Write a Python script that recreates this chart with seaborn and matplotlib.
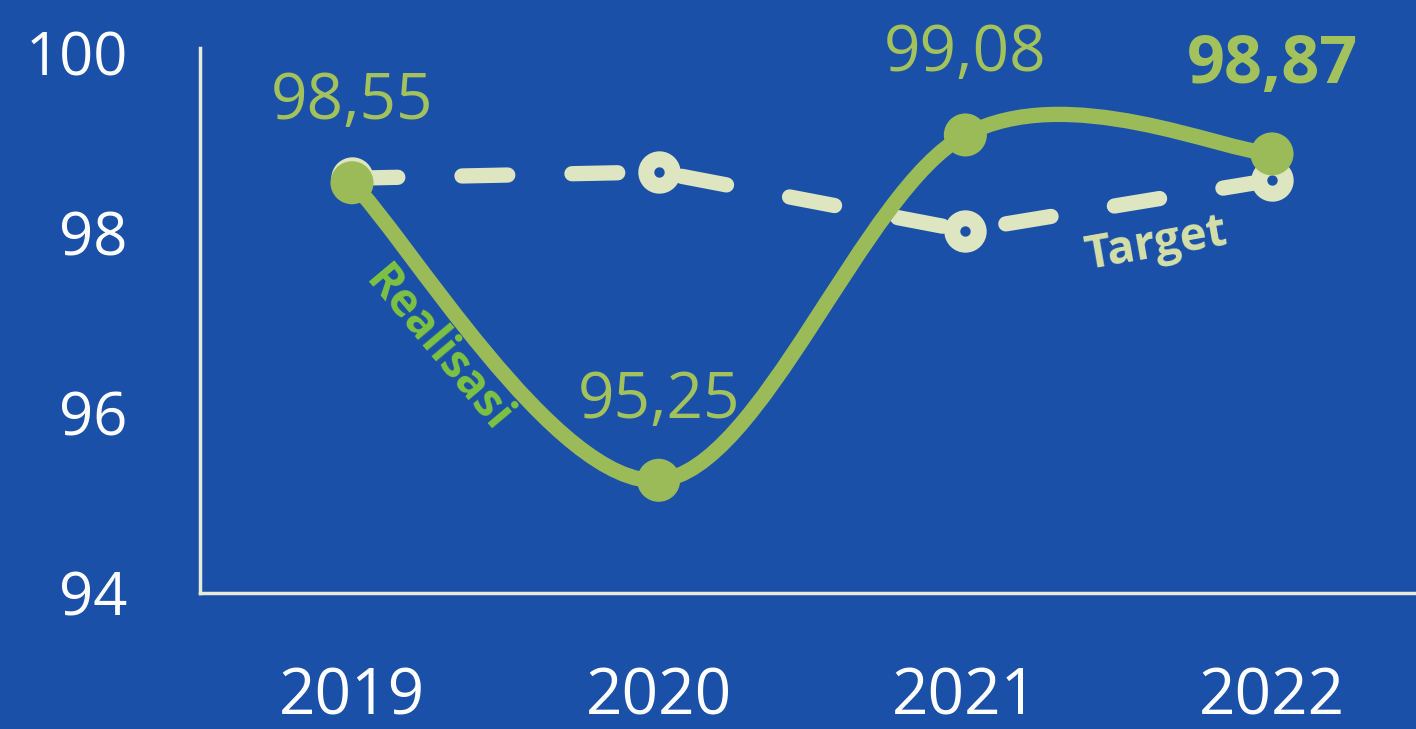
import numpy as np
import pandas as pd
import matplotlib
matplotlib.use("Agg")
import matplotlib.pyplot as plt
import seaborn as sns
from matplotlib.path import Path
from matplotlib.patches import PathPatch

years = ["2019", "2020", "2021", "2022"]
realisasi = [98.55, 95.25, 99.08, 98.87]
target = [98.60, 98.67, 98.02, 98.58]
realisasi_labels = ["98,55", "95,25", "99,08", "98,87"]
y_ticks = [94, 96, 98, 100]

BG = "#1a50a8"
GREEN = "#9bbb59"
LABEL_GREEN = "#a3c25c"
TARGET_C = "#dde6c0"

sns.set_theme(style="white")
plt.rcParams["font.family"] = ["Open Sans", "DejaVu Sans"]

fig = plt.figure(figsize=(14.16, 7.29), dpi=100, facecolor=BG)
ax = fig.add_axes([200 / 1416, (729 - 593) / 729, 1 - 200 / 1416, (593 - 48) / 729])
ax.set_facecolor(BG)

df = pd.DataFrame({"idx": np.arange(len(years)), "year": years,
                   "realisasi": realisasi, "target": target})

# Target dashed line with ring markers
sns.lineplot(data=df, x="idx", y="target", ax=ax, color=TARGET_C, linewidth=11,
             marker="o", markersize=19, markerfacecolor=BG, markeredgecolor=TARGET_C,
             markeredgewidth=11.5, zorder=2)
tl = ax.lines[-1]
tl.set_dashes([3.0, 4.2])
tl.set_dash_capstyle("round")
tl.set_solid_capstyle("round")

# Smoothed realisasi line (Bezier through the data points)
xs = df["idx"].to_numpy(dtype=float)
ys = df["realisasi"].to_numpy(dtype=float)
n = len(xs)
verts = [(xs[0], ys[0])]
codes = [Path.MOVETO]
for i in range(n - 1):
    p0 = (xs[max(i - 1, 0)], ys[max(i - 1, 0)])
    p1 = (xs[i], ys[i])
    p2 = (xs[i + 1], ys[i + 1])
    p3 = (xs[min(i + 2, n - 1)], ys[min(i + 2, n - 1)])
    c1 = (p1[0] + (p2[0] - p0[0]) / 6, p1[1] + (p2[1] - p0[1]) / 6)
    c2 = (p2[0] - (p3[0] - p1[0]) / 6, p2[1] - (p3[1] - p1[1]) / 6)
    verts += [c1, c2, p2]
    codes += [Path.CURVE4] * 3
ax.add_patch(PathPatch(Path(verts, codes), facecolor="none", edgecolor=GREEN,
                       linewidth=11, capstyle="round", joinstyle="round", zorder=3))

sns.scatterplot(data=df, x="idx", y="realisasi", ax=ax, color=GREEN, s=31 ** 2,
                edgecolor="none", zorder=4, legend=False)

# Data labels
offsets = [58, 57, 58, 64]
for i, (v, lab) in enumerate(zip(realisasi, realisasi_labels)):
    bold = i == len(realisasi) - 1
    ax.annotate(lab, (i, v), xytext=(0, offsets[i]), textcoords="offset points",
                ha="center", va="center", color=LABEL_GREEN,
                fontsize=48 if bold else 46, fontweight="bold" if bold else "normal",
                zorder=5)

ax.text(0.28, 96.7, "Realisasi", rotation=-50, rotation_mode="anchor",
        ha="center", va="center", color="#7dc242", fontsize=33, fontweight="bold")
ax.text(2.62, 97.87, "Target", rotation=10, rotation_mode="anchor",
        ha="center", va="center", color="#d5e0a9", fontsize=33, fontweight="bold")

ax.set_xlim(-152 / 306.7, 3 + 144 / 306.7)
ax.set_ylim(94, 100 + 4 / 90)
ax.set_xticks(range(len(years)))
ax.set_xticklabels(years)
ax.set_yticks(y_ticks)
ax.set_yticklabels([str(t) for t in y_ticks])
ax.tick_params(axis="both", length=0, colors="white")
ax.tick_params(axis="y", pad=52, labelsize=43)
ax.tick_params(axis="x", pad=52, labelsize=46)
ax.set_xlabel("")
ax.set_ylabel("")
for s in ["top", "right"]:
    ax.spines[s].set_visible(False)
for s in ["left", "bottom"]:
    ax.spines[s].set_color("#e6ecd8")
    ax.spines[s].set_linewidth(2.5)

fig.savefig("out.png", dpi=100, facecolor=BG)
